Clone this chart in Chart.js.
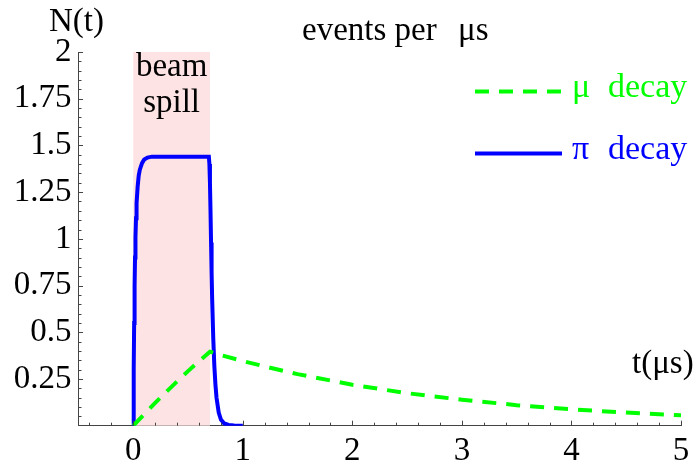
<!DOCTYPE html>
<html>
<head>
<meta charset="utf-8">
<script src="https://cdn.jsdelivr.net/npm/chart.js@4"></script>
<style>
  html, body { margin: 0; padding: 0; background: #fff; }
  #wrap { width: 699px; height: 465px; }
</style>
</head>
<body>
<div id="wrap"><canvas id="decayChart"></canvas></div>
<script>
// time axis (μs) and tick values
const xTicks = [0, 1, 2, 3, 4, 5]
const yTicks = [0.25, 0.5, 0.75, 1, 1.25, 1.5, 1.75, 2]
const spill = [0, 0.7]

// muon decays
const muT = [0, 0.1, 0.2, 0.3, 0.4, 0.5, 0.6, 0.7, 0.8, 1.0, 1.25, 1.5, 2, 2.5, 3, 3.5, 4, 4.5, 5]
const muN = [0, 0.062, 0.122, 0.18, 0.237, 0.292, 0.345, 0.396, 0.378, 0.346, 0.31, 0.276, 0.219, 0.174, 0.139, 0.11, 0.088, 0.07, 0.056]

// pion decays
const piT = [0, 0.004, 0.008, 0.012, 0.016, 0.02, 0.025, 0.03, 0.04, 0.05, 0.06, 0.08, 0.1, 0.13, 0.17, 0.2, 0.69, 0.695, 0.7, 0.705, 0.71, 0.715, 0.72, 0.73, 0.74, 0.75, 0.76, 0.78, 0.8, 0.83, 0.87, 0.92, 1.0]
const piN = [0, 0.3, 0.55, 0.75, 0.9, 1.01, 1.11, 1.19, 1.28, 1.34, 1.37, 1.405, 1.425, 1.435, 1.44, 1.44, 1.44, 1.4, 1.3, 1.15, 0.98, 0.82, 0.68, 0.47, 0.32, 0.22, 0.15, 0.07, 0.033, 0.012, 0.004, 0.001, 0]

const serif = 'Liberation Serif'
Chart.defaults.font.family = serif
Chart.defaults.color = '#000'

const toPoints = (xs, ys) => xs.map((x, i) => ({ x: x, y: ys[i] }))

const decorations = {
    id: 'decorations',
    beforeDatasetsDraw(chart) {
        const { ctx, chartArea, scales } = chart
        const x0 = scales.x.getPixelForValue(spill[0])
        const x1 = scales.x.getPixelForValue(spill[1])
        ctx.save()
        ctx.fillStyle = '#fde3e3'
        ctx.fillRect(x0, chartArea.top, x1 - x0, chartArea.bottom - chartArea.top)
        ctx.fillStyle = '#000'
        ctx.font = '33px ' + serif
        ctx.textAlign = 'center'
        ctx.fillText('beam', (x0 + x1) / 2, 76)
        ctx.fillText('spill', (x0 + x1) / 2, 112)
        ctx.restore()
    },
    afterDraw(chart) {
        const { ctx, chartArea, scales } = chart
        ctx.save()
        // inward tick marks
        ctx.strokeStyle = '#444'
        ctx.lineWidth = 1
        ctx.beginPath()
        for (let i = -2; i <= 25; i++) {
            const v = i * 0.2
            const px = Math.round(scales.x.getPixelForValue(v)) + 0.5
            const len = i % 5 === 0 ? 5 : 3
            ctx.moveTo(px, chartArea.bottom)
            ctx.lineTo(px, chartArea.bottom - len)
        }
        for (let i = 1; i <= 40; i++) {
            const v = i * 0.05
            const py = Math.round(scales.y.getPixelForValue(v)) + 0.5
            const len = i % 5 === 0 ? 4.5 : 3
            ctx.moveTo(chartArea.left, py)
            ctx.lineTo(chartArea.left + len, py)
        }
        ctx.stroke()

        // axis captions and title
        ctx.fillStyle = '#000'
        ctx.font = '33px ' + serif
        ctx.textAlign = 'left'
        ctx.fillText('N(t)', 49, 31)
        ctx.fillText('events per', 302, 40)
        ctx.fillText('μs', 458, 40)
        ctx.fillText('t(μs)', 632, 373)

        // legend
        const rows = [91.5, 153.5]
        chart.data.datasets.forEach((ds, i) => {
            const y = rows[i]
            ctx.strokeStyle = ds.borderColor
            ctx.lineWidth = ds.borderWidth
            ctx.setLineDash(ds.borderDash || [])
            ctx.beginPath()
            ctx.moveTo(475, y)
            ctx.lineTo(562, y)
            ctx.stroke()
            ctx.setLineDash([])
            const parts = ds.label.split(' ')
            ctx.fillStyle = ds.borderColor
            ctx.font = '34px ' + serif
            ctx.fillText(parts[0], 572, y + 5)
            ctx.fillText(parts[1], 608, y + 5)
        })
        ctx.restore()
    }
}

new Chart(document.getElementById('decayChart'), {
    type: 'line',
    data: {
        datasets: [{
            label: 'μ decay',
            data: toPoints(muT, muN),
            borderColor: '#00ff00',
            borderWidth: 4,
            borderDash: [14, 10],
            borderCapStyle: 'butt',
            pointRadius: 0,
            tension: 0
        }, {
            label: 'π decay',
            data: toPoints(piT, piN),
            borderColor: '#0000ff',
            borderWidth: 4,
            pointRadius: 0,
            tension: 0
        }]
    },
    options: {
        responsive: true,
        maintainAspectRatio: false,
        animation: false,
        layout: { padding: { top: 52, right: 18, left: 0, bottom: 0 } },
        plugins: { legend: { display: false }, tooltip: { enabled: false } },
        scales: {
            x: {
                type: 'linear',
                min: -0.5,
                max: 5,
                grid: { display: false, drawTicks: false },
                border: { display: true, color: '#444', width: 1 },
                afterBuildTicks: (scale) => { scale.ticks = xTicks.map(v => ({ value: v })) },
                afterFit: (scale) => { scale.height = 39.3 },
                ticks: {
                    autoSkip: false,
                    maxRotation: 0,
                    padding: 6,
                    font: { size: 33 },
                    callback: (v) => String(v)
                }
            },
            y: {
                type: 'linear',
                min: 0,
                max: 2,
                grid: { display: false, drawTicks: false },
                border: { display: true, color: '#444', width: 1 },
                afterBuildTicks: (scale) => { scale.ticks = yTicks.map(v => ({ value: v })) },
                afterFit: (scale) => { scale.width = 78.5 },
                ticks: {
                    autoSkip: false,
                    padding: 7,
                    font: { size: 33 },
                    callback: (v) => String(v)
                }
            }
        }
    },
    plugins: [decorations]
})
</script>
</body>
</html>
